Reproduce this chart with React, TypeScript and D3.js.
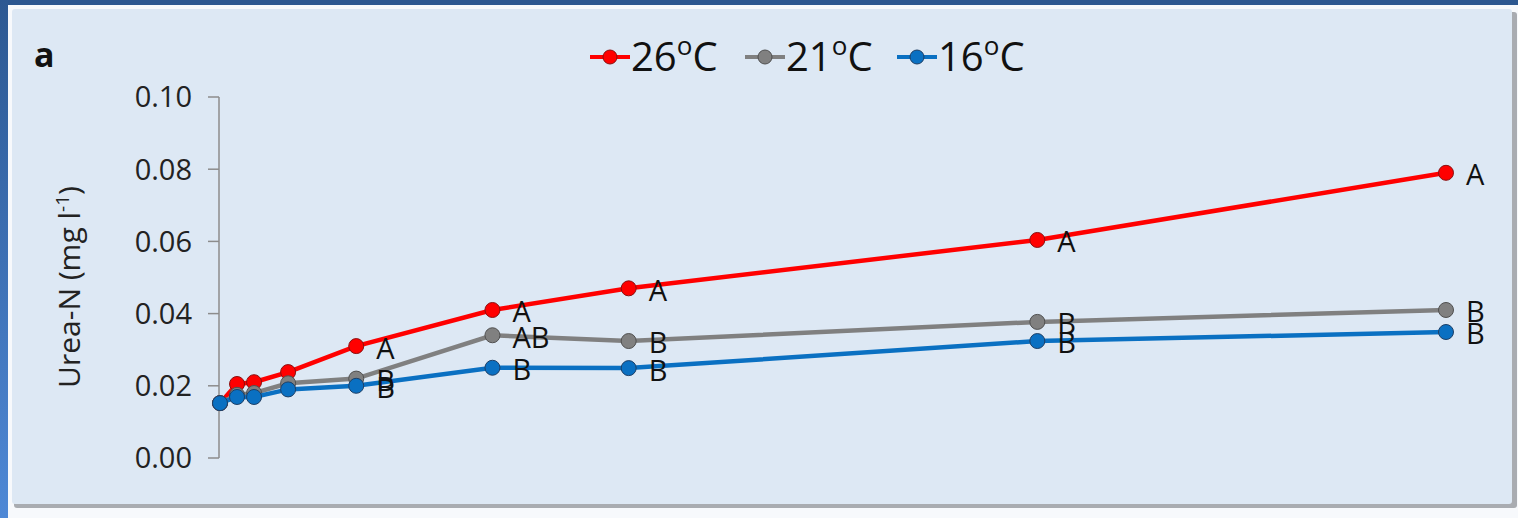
import React from 'react'
import * as d3 from 'd3'

// sampling days (uneven spacing on the x axis, no tick labels shown)
const days = [0, 0.5, 1, 2, 4, 8, 12, 24, 36]

const temp26 = [0.0152, 0.0205, 0.021, 0.0238, 0.031, 0.041, 0.047, 0.0604, 0.079]
const temp21 = [0.0152, 0.0175, 0.018, 0.0207, 0.022, 0.034, 0.0324, 0.0377, 0.041]
const temp16 = [0.0152, 0.0169, 0.0169, 0.019, 0.020, 0.025, 0.0249, 0.0324, 0.0349]

// significance letters, null = no letter
const letters26 = [null, null, null, null, 'A', 'A', 'A', 'A', 'A']
const letters21 = [null, null, null, null, 'B', 'AB', 'B', 'B', 'B']
const letters16 = [null, null, null, null, 'B', 'B', 'B', 'B', 'B']

const yTicks = [0, 0.02, 0.04, 0.06, 0.08, 0.1]

const series = [
    { name: '26', values: temp26, letters: letters26, color: '#ff0000', stroke: '#8a1010' },
    { name: '21', values: temp21, letters: letters21, color: '#808080', stroke: '#505050' },
    { name: '16', values: temp16, letters: letters16, color: '#0a70c2', stroke: '#1d3f66' },
]

const font = '"Open Sans", sans-serif'

export default function App() {
    const width = 1518, height = 518

    const x = d3.scaleLinear().domain([0, 36]).range([220, 1446])
    const y = d3.scaleLinear().domain([0, 0.1]).range([458, 97])

    const line = d3.line<number>()
        .x((d, i) => x(days[i]))
        .y(d => y(d))

    // legend layout
    const legendX = [590, 745, 897]

    return (
        <svg width={width} height={height}
            style={{ position: 'fixed', left: 0, top: 0, display: 'block' }}>
            <defs>
                <linearGradient id="edge" x1="0" y1="0" x2="0" y2="1">
                    <stop offset="0" stopColor="#2c5892" />
                    <stop offset="1" stopColor="#4e88d6" />
                </linearGradient>
            </defs>
            <rect width={width} height={height} fill="#f7f9fc" />
            <rect width={width} height={5} fill="#2c5790" />
            <rect width={8} height={height} fill="url(#edge)" />
            {/* panel shadow + panel */}
            <rect x={14} y={12} width={1503} height={496} fill="#a9acb1" rx={3} />
            <rect x={12} y={9} width={1500} height={495} fill="#dde8f4" rx={3} />

            <text x={34} y={67} fontFamily={font} fontWeight="bold" fontSize={34} fill="#111">a</text>

            {/* legend */}
            {series.map((s, i) => (
                <g key={s.name} transform={`translate(${legendX[i]},57)`}>
                    <line x1={0} x2={40} stroke={s.color} strokeWidth={4} />
                    <circle cx={20} r={7} fill={s.color} stroke={s.stroke} strokeWidth={1} />
                    <text x={41} y={14} fontFamily={font} fontSize={40} fill="#111">
                        {s.name}<tspan dy={-16} fontSize={26}>o</tspan><tspan dy={16}>C</tspan>
                    </text>
                </g>
            ))}

            {/* y axis */}
            <g stroke="#8c8c8c" strokeWidth={1.5}>
                <line x1={219} x2={219} y1={y(0.1)} y2={y(0)} />
                {yTicks.map(t => (
                    <line key={t} x1={208} x2={219} y1={y(t)} y2={y(t)} />
                ))}
            </g>
            {yTicks.map(t => (
                <text key={t} x={192} y={y(t)} dy="0.36em" textAnchor="end"
                    fontFamily={font} fontSize={29} fill="#222">{d3.format('.2f')(t)}</text>
            ))}
            <text transform="translate(80,287) rotate(-90)" textAnchor="middle"
                fontFamily={font} fontSize={30} fill="#222">
                Urea-N (mg l<tspan dy={-11} fontSize={19}>-1</tspan><tspan dy={11}>)</tspan>
            </text>

            {/* lines: 26 first, 16 on top */}
            {series.map(s => (
                <g key={s.name}>
                    <path d={line(s.values) || ''} fill="none" stroke={s.color} strokeWidth={4.5} />
                    {s.values.map((v, i) => (
                        <circle key={i} cx={x(days[i])} cy={y(v)} r={7.5}
                            fill={s.color} stroke={s.stroke} strokeWidth={1} />
                    ))}
                </g>
            ))}

            {/* letters */}
            {series.map(s => s.values.map((v, i) => s.letters[i] ? (
                <text key={s.name + i} x={x(days[i]) + 20} y={y(v) + 2} dy="0.36em"
                    fontFamily={font} fontSize={29} fill="#111">{s.letters[i]}</text>
            ) : null))}
        </svg>
    )
}
